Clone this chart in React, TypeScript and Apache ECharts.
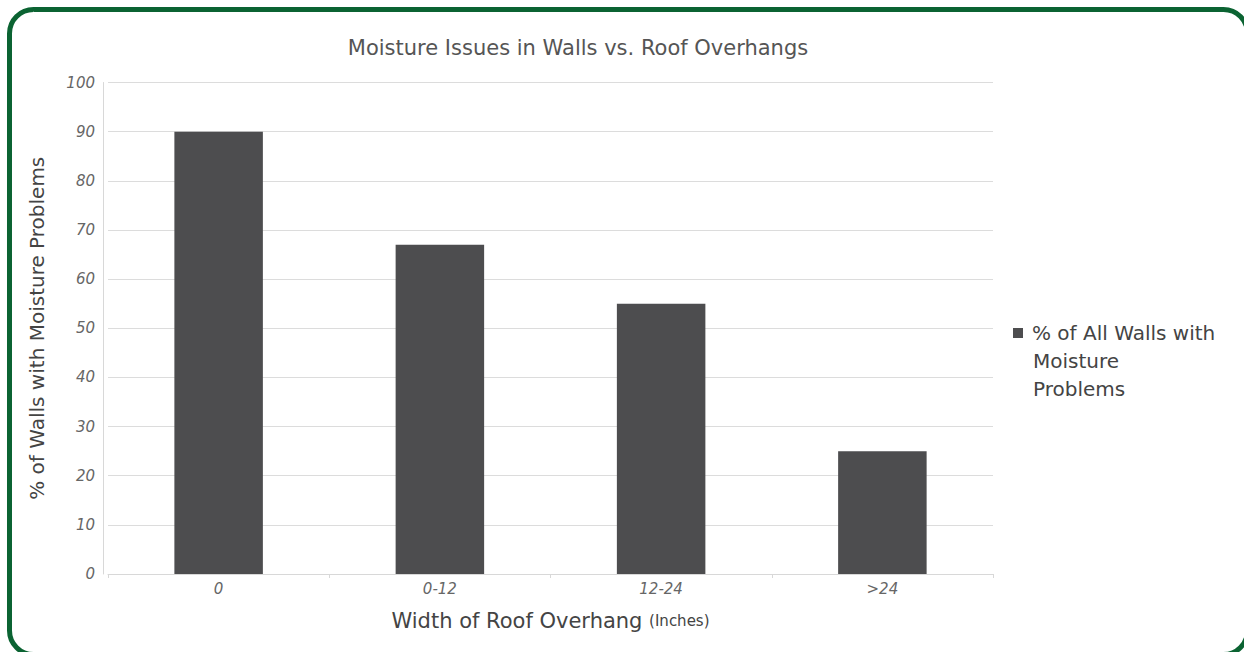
import React, { useEffect, useRef } from "react";
import * as echarts from "echarts";

const categories = ["0", "0-12", "12-24", ">24"];
const values = [90, 67, 55, 25];
const seriesName = "% of All Walls with Moisture Problems";
const legendLines = ["% of All Walls with", "Moisture", "Problems"];
const titleText = "Moisture Issues in Walls vs. Roof Overhangs";
const yAxisName = "% of Walls with Moisture Problems";

const FONT = "'DejaVu Sans', 'Open Sans', sans-serif";

export default function App() {
  const ref = useRef<HTMLDivElement>(null);
  useEffect(() => {
    if (!ref.current) return;
    const chart = echarts.init(ref.current, undefined, { renderer: "svg" });
    chart.setOption({
      animation: false,
      backgroundColor: "#ffffff",
      title: {
        text: titleText,
        left: 573,
        top: 32,
        textAlign: "center",
        textStyle: { fontFamily: FONT, fontSize: 21, fontWeight: "normal", color: "#555" },
      },
      legend: {
        data: [seriesName],
        orient: "vertical",
        left: 1008,
        top: 318,
        icon: "rect",
        itemWidth: 10,
        itemHeight: 10,
        formatter: () => legendLines[0],
        textStyle: { fontFamily: FONT, fontSize: 20, color: "#444", padding: [0, 0, 0, 4] },
      },
      grid: { left: 108, right: 251, top: 82.5, bottom: 78, containLabel: false },
      xAxis: {
        type: "category",
        data: categories,
        name: "Width of Roof Overhang {s|(Inches)}",
        nameLocation: "middle",
        nameGap: 36,
        nameTextStyle: {
          fontFamily: FONT,
          fontSize: 21,
          color: "#444",
          rich: { s: { fontSize: 15, fontFamily: FONT, color: "#444" } },
        },
        axisLine: { show: true, lineStyle: { color: "#d8d8d8", width: 1 } },
        axisTick: { show: true, alignWithLabel: false, length: 4, lineStyle: { color: "#d8d8d8" } },
        axisLabel: { fontFamily: FONT, fontSize: 15, fontStyle: "italic", color: "#666", margin: 7 },
      },
      yAxis: {
        type: "value",
        min: 0,
        max: 100,
        interval: 10,
        offset: 5,
        name: yAxisName,
        nameLocation: "middle",
        nameGap: 56,
        nameTextStyle: { fontFamily: FONT, fontSize: 20, color: "#444" },
        axisLine: { show: true, lineStyle: { color: "#d8d8d8", width: 1 } },
        axisTick: { show: false },
        axisLabel: { fontFamily: FONT, fontSize: 15, fontStyle: "italic", color: "#666", margin: 8 },
        splitLine: { show: true, lineStyle: { color: "#dcdcdc", width: 1 } },
      },
      series: [
        {
          name: seriesName,
          type: "bar",
          data: values,
          barWidth: "40%",
          itemStyle: { color: "#4d4d4f" },
        },
      ],
      graphic: [
        {
          type: "text",
          left: 1033,
          top: 347,
          style: {
            text: legendLines.slice(1).join("\n"),
            font: `20px ${FONT}`,
            fill: "#444",
            lineHeight: 28,
          },
        },
        {
          type: "rect",
          shape: { x: 9.5, y: 9.5, width: 1238, height: 645, r: 24 },
          style: { fill: "none", stroke: "#0b6332", lineWidth: 5 },
          silent: true,
          z: 100,
        },
      ],
    });
    return () => chart.dispose();
  }, []);
  return (
    <div
      ref={ref}
      style={{ position: "fixed", left: 0, top: 0, width: 1244, height: 652 }}
    />
  );
}
